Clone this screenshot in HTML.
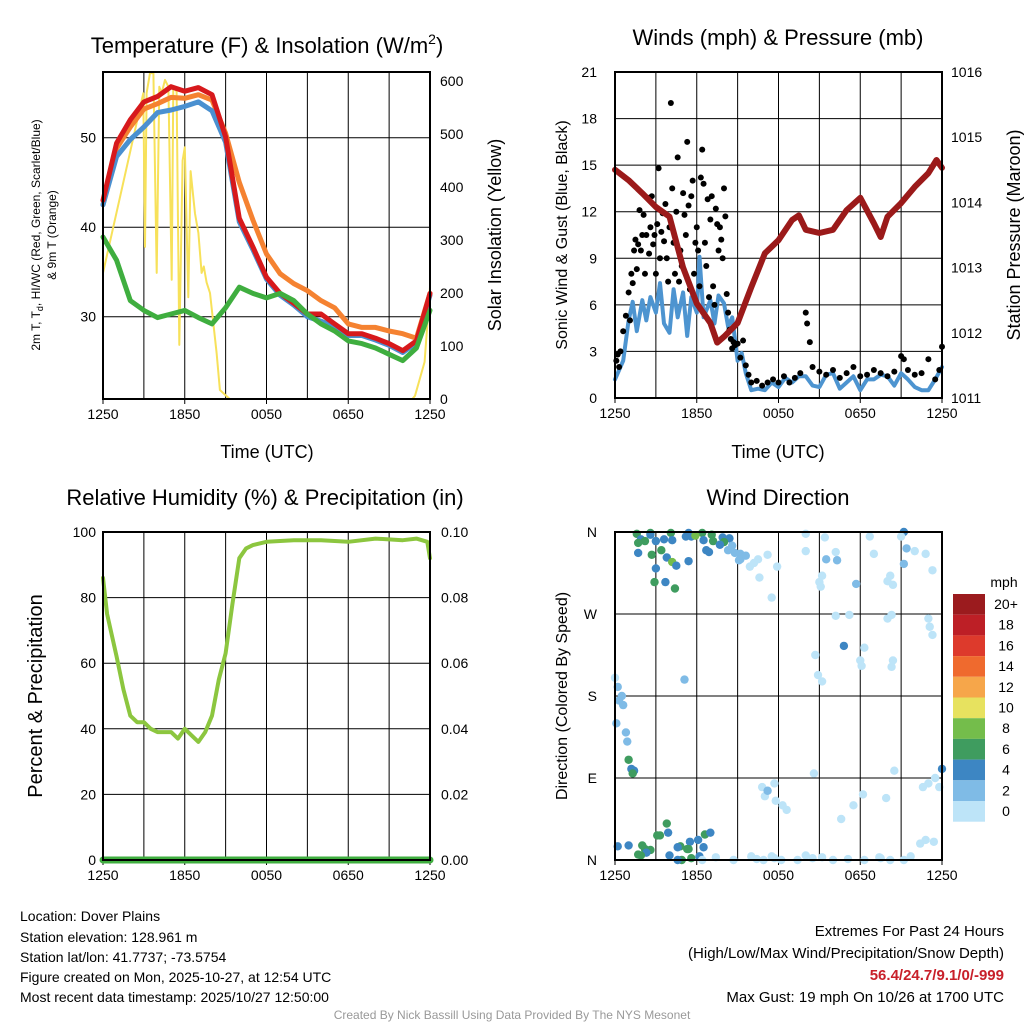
<!DOCTYPE html>
<html><head><meta charset="utf-8">
<style>
body{margin:0;background:#fff;}
svg{display:block;font-family:"Liberation Sans",Arial,sans-serif;}
</style></head>
<body>
<svg id="s" width="1024" height="1024" viewBox="0 0 1024 1024">
<rect x="0" y="0" width="1024" height="1024" fill="#fff"/>
<g id="g1"></g>
<g id="g2"></g>
<g id="g3"></g>
<g id="g4"></g>
<g id="txt">
<text x="267" y="53" font-size="22" text-anchor="middle">Temperature (F) &amp; Insolation (W/m<tspan font-size="14" dy="-9">2</tspan><tspan dy="9">)</tspan></text>
<text x="778" y="45" font-size="22" text-anchor="middle">Winds (mph) &amp; Pressure (mb)</text>
<text x="265" y="505" font-size="22" text-anchor="middle">Relative Humidity (%) &amp; Precipitation (in)</text>
<text x="778" y="505" font-size="22" text-anchor="middle">Wind Direction</text>
<text x="267" y="458" font-size="18" text-anchor="middle">Time (UTC)</text>
<text x="778" y="458" font-size="18" text-anchor="middle">Time (UTC)</text>
<text transform="translate(40,235) rotate(-90)" font-size="12" text-anchor="middle">2m T, T<tspan font-size="9" dy="3">d</tspan><tspan dy="-3">, HI/WC (Red, Green, Scarlet/Blue)</tspan></text>
<text transform="translate(56,235) rotate(-90)" font-size="12" text-anchor="middle">&amp; 9m T (Orange)</text>
<text transform="translate(501,235) rotate(-90)" font-size="18" text-anchor="middle">Solar Insolation (Yellow)</text>
<text transform="translate(567,235) rotate(-90)" font-size="16" text-anchor="middle">Sonic Wind &amp; Gust (Blue, Black)</text>
<text transform="translate(1020,235) rotate(-90)" font-size="18" text-anchor="middle">Station Pressure (Maroon)</text>
<text transform="translate(42,696) rotate(-90)" font-size="20" text-anchor="middle">Percent &amp; Precipitation</text>
<text transform="translate(567,696) rotate(-90)" font-size="16" text-anchor="middle">Direction (Colored By Speed)</text>
<text x="1004" y="587" font-size="14" text-anchor="middle">mph</text>
<g font-size="14">
<text x="20" y="921">Location: Dover Plains</text>
<text x="20" y="942">Station elevation: 128.961 m</text>
<text x="20" y="962">Station lat/lon: 41.7737; -73.5754</text>
<text x="20" y="982">Figure created on Mon, 2025-10-27, at 12:54 UTC</text>
<text x="20" y="1002">Most recent data timestamp: 2025/10/27 12:50:00</text>
</g>
<g font-size="15" text-anchor="end">
<text x="1004" y="936">Extremes For Past 24 Hours</text>
<text x="1004" y="958">(High/Low/Max Wind/Precipitation/Snow Depth)</text>
<text x="1004" y="980" fill="#c8202a" font-weight="bold">56.4/24.7/9.1/0/-999</text>
<text x="1004" y="1002">Max Gust: 19 mph On 10/26 at 1700 UTC</text>
</g>
<text x="512" y="1019" font-size="12" fill="#999" text-anchor="middle">Created By Nick Bassill Using Data Provided By The NYS Mesonet</text>
</g>
</svg>
<script>
// ---- data (hours since 1250 UTC) ----
const hrs = [0,1,2,3,4,5,6,7,8,9,10,11,12,13,14,15,16,17,18,19,20,21,22,23,24];
const tempRed = [43,49.4,52,54,54.6,55.7,55.2,55.6,54.8,50.1,41,37.8,34.4,32.6,31.5,30.3,30.3,29.2,28.1,28.1,27.6,27,26.2,27.3,32.6];
const tempOrange = [42.5,48.8,51.2,53.2,53.8,54.5,54.4,54.8,54.2,50.5,45,40.8,37,34.8,33.7,32.9,31.8,31,29.2,28.8,28.8,28.4,28.1,27.6,32.6];
const tempBlue = [42.5,47.9,49.8,51.2,52.8,53.1,53.5,54,53,49.5,40.6,37.5,34.2,32.4,31.3,30,29.5,28.9,27.9,27.9,27.4,26.8,26,27.1,32.4];
const tempGreen = [38.9,36.3,31.8,30.7,29.9,30.3,30.7,29.9,29.2,31,33.3,32.6,32.1,32.6,31.8,30.3,29.2,28.4,27.3,27,26.5,25.8,25.1,26.5,30.7];
const solarT = [0,2.96,3.08,3.2,3.45,3.7,3.94,4.13,4.3,4.55,4.8,5.04,5.16,5.4,5.6,5.84,6.0,6.26,6.43,6.75,7.0,7.24,7.4,7.6,7.85,8.34,8.58,9.3,22.7,22.9,23.6,24];
const solarV = [238,577,287,577,615,615,238,589,577,602,589,225,589,580,102,450,475,192,430,350,313,238,250,220,200,87,17,0,0,6,70,211];
const presT = [0,1,2,3,4,5,6,7,7.5,8,9,10,11,12,13,13.5,14,15,16,17,18,19,19.5,20,21,22,23,23.6,24];
const presV = [1014.5,1014.34,1014.14,1013.93,1013.78,1013.0,1012.45,1012.15,1011.85,1011.94,1012.15,1012.7,1013.22,1013.42,1013.73,1013.8,1013.58,1013.53,1013.58,1013.88,1014.07,1013.68,1013.47,1013.78,1013.99,1014.24,1014.45,1014.65,1014.53];
const windT = [0,0.3,0.6,1,1.3,1.6,2,2.3,2.6,3,3.3,3.6,4,4.3,4.6,5,5.3,5.6,6,6.2,6.5,7,7.3,7.6,8,8.3,8.6,9,9.3,9.6,10,10.5,11,11.5,12,12.5,13,13.5,14,14.5,15,15.5,16,16.5,17,17.5,18,18.5,19,19.5,20,20.5,21,21.5,22,22.5,23,23.5,24];
const windV = [1.2,1.8,2.4,5,6.2,4.3,6.3,5,6.5,5.5,7.4,4.8,4.2,7,5.2,6.8,4,6.5,5.5,9.1,5.2,6.3,4.8,6.6,6.1,4.6,5.2,2.4,2.9,1.6,0.5,0.6,0.5,1.0,0.7,1.3,1.0,1.4,1.4,0.8,0.7,1.5,1.6,0.6,1.0,1.4,0.5,1.2,1.2,1.5,1.4,0.8,1.6,1.2,0.7,0.5,0.5,1.2,2];
const gustT = [0.1,0.2,0.3,0.4,0.6,0.8,1.0,1.1,1.2,1.3, 1.4,1.5,1.6,1.7,1.8,1.9,2.0,2.1,2.2,2.3, 2.4,2.5,2.6,2.7,2.8,2.9,3.0,3.1,3.2,3.3, 3.4,3.5,3.6,3.7,3.8,3.9,4.0,4.1,4.2,4.3, 4.4,4.5,4.6,4.7,4.8,4.9,5.0,5.1,5.2,5.3, 5.4,5.5,5.6,5.7,5.8,5.9,6.0,6.1,6.2,6.3, 6.4,6.5,6.6,6.7,6.8,6.9,7.0,7.1,7.2,7.3, 7.4,7.5,7.6,7.7,7.8,7.9,8.0,8.1,8.2,8.3, 8.4,8.5,8.6,8.7,8.8,9.0,9.2,9.4,9.6,9.8, 10.0,10.4,10.8,11.2,11.6,12.0,12.4,12.8,13.2,13.6, 14.0,14.1,14.3,14.5,15,15.5,16,16.5,17,17.5, 18,18.5,19,19.5,20,20.5,21,21.2,21.5,22, 22.5,23,23.5,23.8,24];
const gustV = [2.4,2.8,2.0,3.0,4.3,5.3,6.8,5.0,8.0,7.4, 9.5,10.2,8.3,9.9,12.1,9.5,10.5,11.8,8.0,10.5, 12.9,9.3,11.0,13.0,9.9,10.5,8.0,11.2,14.8,9.0, 10.7,11.9,10.1,12.5,9.0,7.5,11.0,19.0,13.5,10.0, 8.0,12.0,15.5,7.5,9.5,8.5,13.2,11.8,10.5,16.5, 12.4,7.0,13.0,14.0,8.0,10.0,11.0,9.5,7.2,14.2, 16.0,13.8,10.0,8.5,12.8,6.5,11.5,13.0,7.2,6.0, 12.2,11.2,9.5,11.0,10.2,9.0,13.5,11.7,6.7,5.5, 4.4,3.8,3.2,3.6,3.4,3.5,2.6,3.7,2.1,1.5, 1.0,1.1,0.8,1.0,1.2,1.0,1.4,1.0,1.3,1.6, 5.5,4.8,3.6,2.0,1.7,1.5,1.8,1.3,1.6,2.0, 1.4,1.5,1.8,1.6,1.4,1.7,2.7,2.5,1.8,1.5, 1.6,2.5,1.2,1.8,3.3];
const rhT = [0,0.3,1,1.5,2,2.5,3,3.5,4,5,5.5,6,6.5,7,7.5,8,8.5,9,9.5,10,10.5,11,12,14,16,18,20,22,23,23.8,24];
const rhV = [86,75,62,52,44,42,42,40,39,39,37,40,38,36,39,44,55,63,78,92,95,96,97,97.5,97.5,97,98,97.5,98,97,92];
const precipT = [0,24];
const precipV = [0,0];
const dirT = [1.6,2.6,4.1,2.6,5.4,6.4,7.1,1.9,2.2,1.7,3.0,3.6,4.2,5.2,5.6,5.9,6.5,7.2,7.9,8.4,8.0,7.7,6.7,6.9,1.7,3.4,2.7,3.8,5.4,4.2,4.5,3.0,2.9,3.7,4.4,8.8,9.2,9.6,9.2,10.2,9.9,10.5,11.9,11.2,10.6,11.5,9.1,8.6,8.3,14.0,15.4,18.7,21.2,21.0,14.0,16.2,15.5,16.3,19.0,22.0,22.8,21.4,21.2,23.3,15.2,15.0,15.1,17.7,20.2,20.0,20.4,16.2,17.2,20.0,20.3,23.1,23.0,23.3,16.8,18.3,14.7,18.0,18.1,20.4,20.3,14.9,15.2,5.1,0.0,0.2,0.5,0.6,0.3,0.1,0.8,0.9,1.0,1.2,1.4,1.3,10.8,11.7,11.0,11.8,12.3,12.6,11.2,14.6,16.6,17.5,18.2,19.9,20.5,22.6,23.0,23.5,23.8,24,23.4,1.0,0.2,3.8,3.1,2.6,5.3,4.0,5.6,5.5,6.5,4.8,2.0,2.2,2.3,1.9,1.7,4.6,5.4,6.1,6.6,7.0,6.2,3.9,3.3,4.9,4.6,6.4,7.4,8.7,10.0,10.4,10.9,11.5,11.7,12.2,13.4,14.0,14.5,15.2,16.0,17.1,18.3,19.4,19.5,20.2,21.2,21.7,22.4,22.8];
const dirD = [358,359,359,357,359,359,357,352,350,348,350,352,351,355,355,356,351,350,354,353,349,346,340,338,337,340,335,332,328,327,323,320,305,305,298,337,336,334,330,326,322,330,322,335,310,288,329,345,340,358,354,355,360,355,339,338,330,329,336,339,336,342,325,318,312,305,300,303,312,306,302,268,269,265,269,256,265,247,235,233,225,219,213,219,212,203,196,198,200,190,180,170,175,150,140,130,110,100,98,95,80,84,70,65,60,55,76,95,45,60,72,68,98,80,84,90,80,100,20,16,15,40,27,11,12,5,2,20,14,15,16,12,8,5,6,14,12,22,28,30,4,30,27,0,0,0,3,0,4,1,0,4,2,0,0,5,2,3,0,1,0,3,2,0,0,4,18,22,33,45,40,8,20,26,36,10,30];
const dirS = [6,6,6,4,4,6,6,4,6,6,4,4,4,4,4,8,4,6,4,4,6,4,4,4,4,6,6,4,4,8,4,4,6,4,6,2,2,2,2,0,0,0,0,0,0,0,2,2,2,0,0,0,4,0,0,0,2,2,0,0,0,2,2,0,0,0,0,2,0,0,0,0,0,0,0,0,0,0,4,0,0,0,0,0,0,0,0,2,0,2,2,2,2,2,2,2,6,4,4,6,0,0,0,0,0,0,2,0,0,0,0,0,0,0,0,0,0,4,0,4,4,6,6,6,6,4,6,4,4,6,6,6,4,6,6,4,6,4,6,4,4,4,6,6,4,0,0,0,0,0,0,0,0,0,0,0,0,0,0,0,0,0,0,0,0,0,0,0,0,0,0,2,4,0,0,0,0,0,0];
const cbLabels = ["20+","18","16","14","12","10","8","6","4","2","0"];
const cbColors = ["#9b1b1e","#bd1f26","#dd3a2c","#ef6a2e","#f6a64a","#e7e25f","#74bd4b","#3f9c5f","#3d86c3","#7fbbe6","#bde4f8"];
const tempTicks = [30,40,50];
const solarTicks = [0,100,200,300,400,500,600];
const windTicks = [0,3,6,9,12,15,18,21];
const presTicks = [1011,1012,1013,1014,1015,1016];
const rhTicks = [0,20,40,60,80,100];
const precipTicks = ["0.00","0.02","0.04","0.06","0.08","0.10"];
const timeLabels = ["1250","1850","0050","0650","1250"];
const dirLabels = ["N","E","S","W","N"];

const NS="http://www.w3.org/2000/svg";
function mk(tag,attrs,parent){const e=document.createElementNS(NS,tag);for(const k in attrs)e.setAttribute(k,attrs[k]);parent.appendChild(e);return e;}
function scale(d0,d1,r0,r1){return v=>r0+(v-d0)*(r1-r0)/(d1-d0);}
function line(g,xs,ys,xf,yf,color,w,name){
  const n=Math.min(xs.length,ys.length);
  const pts=xs.slice(0,n).map((t,i)=>xf(t).toFixed(1)+","+yf(ys[i]).toFixed(1)).join(" ");
  const p=mk("polyline",{points:pts,fill:"none",stroke:color,"stroke-width":w,"stroke-linejoin":"round","stroke-linecap":"round"},g);
  
  
  return p;
}
function frame(g,L,T,R,B,xf,hgrid){
  for(let i=1;i<8;i++){const x=L+i*(R-L)/8;const l=mk("line",{x1:x,x2:x,y1:T,y2:B,stroke:"#000","stroke-width":1},g);
    
    }
  hgrid.forEach(y=>{const l=mk("line",{x1:L,x2:R,y1:y,y2:y,stroke:"#000","stroke-width":1},g);
    
    });
  timeLabels.forEach((s,i)=>{const x=L+i*(R-L)/4;
    const t=mk("text",{x:x,y:B+20,"font-size":14,"text-anchor":"middle"},g);t.textContent=s;
    
    
    const tk=mk("line",{x1:x,x2:x,y1:B,y2:B+5,stroke:"#000"},g);
    
    });
}
function border(g,L,T,R,B){const r=mk("rect",{x:L,y:T,width:R-L,height:B-T,fill:"none",stroke:"#000","stroke-width":2},g);
  
  }
function ylabels(g,vals,yf,x,anchor,name){vals.forEach(v=>{const t=mk("text",{x:x,y:yf(v)+5,"font-size":14,"text-anchor":anchor},g);t.textContent=v;
  
  });}

// ---- Panel 1 ----
(function(){
  const g=document.getElementById("g1");
  const L=103,R=430,T=72,B=399;
  const xf=scale(0,24,L,R), yT=scale(30,40,316.7,227.2), yS=scale(0,600,399,81);
  frame(g,L,T,R,B,xf,tempTicks.map(yT));
  line(g,solarT,solarV,xf,yS,"#f7e15a",2,"solar-line");
  line(g,hrs,tempOrange,xf,yT,"#f58231",5,"temp-9m-line");
  line(g,hrs,tempBlue,xf,yT,"#4a90d0",5,"heat-index-line");
  line(g,hrs,tempRed,xf,yT,"#d7191c",5,"temp-2m-line");
  line(g,hrs,tempGreen,xf,yT,"#3fae3f",5,"dewpoint-line");
  border(g,L,T,R,B);
  ylabels(g,tempTicks,yT,96,"end","temp-tick-label");
  ylabels(g,solarTicks,yS,440,"start","solar-tick-label");
})();

// ---- Panel 2 ----
(function(){
  const g=document.getElementById("g2");
  const L=615,R=942,T=72,B=398;
  const xf=scale(0,24,L,R), yW=scale(0,21,B,T), yP=scale(1011,1016,B,T);
  frame(g,L,T,R,B,xf,windTicks.slice(1,7).map(yW));
  line(g,windT,windV,xf,yW,"#4d94d0",4,"sonic-wind-line");
  const n=Math.min(gustT.length,gustV.length);
  for(let i=0;i<n;i++){const c=mk("circle",{cx:xf(gustT[i]),cy:yW(gustV[i]),r:3,fill:"#000"},g);
    
    }
  line(g,presT,presV,xf,yP,"#9b1a1a",6,"pressure-line");
  border(g,L,T,R,B);
  ylabels(g,windTicks,yW,597,"end","wind-tick-label");
  ylabels(g,presTicks,yP,951,"start","pressure-tick-label");
})();

// ---- Panel 3 ----
(function(){
  const g=document.getElementById("g3");
  const L=103,R=430,T=532,B=860;
  const xf=scale(0,24,L,R), yR=scale(0,100,B,T);
  frame(g,L,T,R,B,xf,rhTicks.slice(1,5).map(yR));
  line(g,rhT,rhV,xf,yR,"#8cc63f",4,"rh-line");
  line(g,precipT,precipV,xf,yR,"#3fae3f",7,"precip-line");
  border(g,L,T,R,B);
  ylabels(g,rhTicks,yR,96,"end","rh-tick-label");
  precipTicks.forEach((s,i)=>{const t=mk("text",{x:441,y:yR(i*20)+5,"font-size":14},g);t.textContent=s;
    
    });
})();

// ---- Panel 4 ----
(function(){
  const g=document.getElementById("g4");
  const L=615,R=942,T=532,B=860;
  const xf=scale(0,24,L,R), yD=scale(0,360,B,T);
  frame(g,L,T,R,B,xf,[90,180,270].map(yD));
  const cidx=s=>10-Math.min(10,Math.round(s/2));
  const n=Math.min(dirT.length,dirD.length,dirS.length);
  for(let i=0;i<n;i++){const c=mk("circle",{cx:xf(dirT[i]),cy:yD(dirD[i]),r:4.2,fill:cbColors[cidx(dirS[i])]},g);
    
    }
  border(g,L,T,R,B);
  dirLabels.forEach((s,i)=>{const t=mk("text",{x:597,y:yD(i*90)+5,"font-size":14,"text-anchor":"end"},g);t.textContent=s;
    
    });
  cbColors.forEach((c,i)=>{const r=mk("rect",{x:953,y:594+i*20.7,width:32,height:20.7,fill:c},g);
    
    
    const t=mk("text",{x:1006,y:594+i*20.7+15,"font-size":14,"text-anchor":"middle"},g);t.textContent=cbLabels[i];
    
    });
})();
</script>
</body></html>
